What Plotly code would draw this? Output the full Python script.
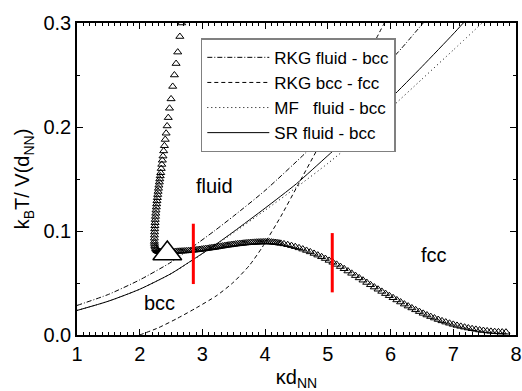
import plotly.graph_objects as go

# ---------------- data ----------------
sr_x = [1.0, 1.5, 2.0, 2.5, 2.85, 3.2, 3.5, 4.0, 4.5, 5.0, 5.5, 6.0, 6.5, 7.0, 7.16]
sr_y = [0.0236, 0.0325, 0.044, 0.059, 0.0725, 0.0865, 0.0995, 0.122, 0.1455, 0.1725, 0.1995, 0.2275, 0.258, 0.2895, 0.300]

rkg_fb_x = [1.0, 1.5, 2.0, 2.5, 2.85, 3.2, 3.5, 4.0, 4.66, 5.0, 5.5, 6.0, 6.18, 6.52]
rkg_fb_y = [0.0284, 0.039, 0.053, 0.070, 0.085, 0.1005, 0.1145, 0.139, 0.176, 0.197, 0.229, 0.264, 0.276, 0.300]

mf_x = [1.0, 1.5, 2.0, 2.5, 3.0, 3.5, 4.0, 4.5, 5.0, 5.5, 6.0, 6.5, 7.0, 7.46]
mf_y = [0.0236, 0.0325, 0.044, 0.059, 0.078, 0.0985, 0.120, 0.142, 0.165, 0.190, 0.218, 0.246, 0.274, 0.300]

rkg_bf_x = [2.0, 2.3, 2.6, 2.9, 3.23, 3.5, 3.75, 3.95, 4.25, 4.53, 4.80, 5.2, 5.6, 5.9]
rkg_bf_y = [0.0, 0.007, 0.016, 0.026, 0.038, 0.051, 0.067, 0.084, 0.114, 0.145, 0.175, 0.220, 0.265, 0.300]

# triangle symbols (simulation points)
tri_x = [
    2.67, 2.64, 2.606, 2.58, 2.553, 2.526, 2.500, 2.475, 2.455, 2.437,
    2.421, 2.407, 2.394, 2.382, 2.371, 2.361, 2.352, 2.343, 2.335, 2.327,
    2.320, 2.313, 2.306, 2.299, 2.293, 2.287, 2.281, 2.275, 2.270, 2.265,
    2.260, 2.256, 2.252, 2.248, 2.245, 2.242, 2.239, 2.237, 2.235, 2.234,
    2.234, 2.236, 2.240, 2.246, 2.254, 2.264, 2.276, 2.290, 2.305, 2.318,
    2.33, 2.36, 2.39, 2.42, 2.45, 2.48, 2.51, 2.54, 2.57, 2.60,
    2.63, 2.66, 2.69, 2.72, 2.75, 2.78, 2.81, 2.84, 2.87, 2.90,
    2.93, 2.96, 2.99, 3.02, 3.05, 3.08, 3.11, 3.14, 3.17, 3.20,
    3.23, 3.26, 3.29, 3.32, 3.35, 3.38, 3.41, 3.44, 3.47, 3.50,
    3.53, 3.56, 3.59, 3.62, 3.65, 3.68, 3.71, 3.74, 3.77, 3.80,
    3.83, 3.86, 3.89, 3.92, 3.95, 3.98, 4.01, 4.04, 4.07, 4.10,
    4.13, 4.16, 4.19, 4.22, 4.25,
    4.30, 4.36, 4.42, 4.48, 4.54, 4.60, 4.66, 4.72, 4.78, 4.84,
    4.90, 4.96, 5.02, 5.08, 5.14, 5.20, 5.26, 5.32, 5.38, 5.44,
    5.50, 5.56, 5.62, 5.68, 5.74, 5.80, 5.86, 5.92, 5.98, 6.04,
    6.10, 6.16, 6.22, 6.28, 6.34, 6.40, 6.46, 6.52, 6.58, 6.64,
    6.70, 6.76, 6.82, 6.88, 6.94, 7.00, 7.06, 7.12, 7.18, 7.24,
    7.30, 7.36, 7.42, 7.48, 7.54, 7.60, 7.66, 7.72, 7.78, 7.84,
]
tri_y = [
    0.300, 0.287, 0.272, 0.261, 0.250, 0.239, 0.227, 0.218, 0.209, 0.201,
    0.194, 0.188, 0.182, 0.177, 0.172, 0.168, 0.164, 0.160, 0.156, 0.153,
    0.150, 0.147, 0.144, 0.141, 0.138, 0.135, 0.132, 0.129, 0.126, 0.123,
    0.120, 0.117, 0.114, 0.111, 0.108, 0.105, 0.102, 0.099, 0.096, 0.093,
    0.090, 0.088, 0.086, 0.0845, 0.083, 0.082, 0.081, 0.0805, 0.0802, 0.0800,
    0.0800, 0.0800, 0.0800, 0.0800, 0.0801, 0.0801, 0.0802, 0.0802, 0.0803, 0.0804,
    0.0805, 0.0806, 0.0807, 0.0808, 0.0809, 0.0810, 0.0812, 0.0814, 0.0816, 0.0818,
    0.0820, 0.0822, 0.0825, 0.0827, 0.0830, 0.0832, 0.0835, 0.0838, 0.0840, 0.0843,
    0.0846, 0.0849, 0.0852, 0.0855, 0.0858, 0.0861, 0.0864, 0.0866, 0.0869, 0.0871,
    0.0874, 0.0876, 0.0878, 0.0880, 0.0882, 0.0884, 0.0886, 0.0887, 0.0889, 0.0890,
    0.0891, 0.0892, 0.0893, 0.0894, 0.0894, 0.0895, 0.0895, 0.0895, 0.0894, 0.0893,
    0.0891, 0.0889, 0.0887, 0.0884, 0.0881,
    0.0876, 0.0868, 0.0859, 0.0849, 0.0838, 0.0826, 0.0813, 0.0799, 0.0784, 0.0768,
    0.0752, 0.0735, 0.0717, 0.0699, 0.0679, 0.0658, 0.0637, 0.0615, 0.0593, 0.0571,
    0.0549, 0.0527, 0.0505, 0.0483, 0.0461, 0.0440, 0.0419, 0.0398, 0.0378, 0.0358,
    0.0337, 0.0317, 0.0297, 0.0278, 0.0260, 0.0242, 0.0225, 0.0208, 0.0192, 0.0177,
    0.0163, 0.0149, 0.0136, 0.0124, 0.0113, 0.0102, 0.0092, 0.0083, 0.0075, 0.0067,
    0.0060, 0.0054, 0.0048, 0.0043, 0.0039, 0.0035, 0.0032, 0.0030, 0.0028, 0.0027,
]

big_x = [2.44]
big_y = [0.0784]

red_x = [2.855, 5.07]
red_lo = [0.049, 0.041]
red_hi = [0.107, 0.098]

x_ticks = [1, 2, 3, 4, 5, 6, 7, 8]
y_ticks = [0.0, 0.1, 0.2, 0.3]

labels = ["fluid", "bcc", "fcc"]
label_x = [3.20, 2.31, 6.69]
label_y = [0.143, 0.031, 0.0774]

FONT = "Liberation Sans, Arial, sans-serif"

fig = go.Figure()

line_series = [
    ("RKG fluid - bcc", rkg_fb_x, rkg_fb_y, "5px,2px,1px,2px"),
    ("RKG bcc - fcc", rkg_bf_x, rkg_bf_y, "4px,3px"),
    ("MF\u00a0\u00a0\u00a0fluid - bcc", mf_x, mf_y, "1px,3px"),
    ("SR fluid - bcc", sr_x, sr_y, "solid"),
]
for i, (name, xs, ys, dash) in enumerate(line_series):
    fig.add_trace(go.Scatter(
        x=xs, y=ys, mode="lines", name=name,
        line=dict(color="black", width=1, dash=dash, shape="spline", smoothing=0.6),
    ))

fig.add_trace(go.Scatter(
    x=tri_x, y=tri_y, mode="markers", showlegend=False,
    marker=dict(symbol="triangle-up-open", size=7, color="black", line=dict(width=1, color="black")),
))

for xv, lo, hi in zip(red_x, red_lo, red_hi):
    fig.add_trace(go.Scatter(
        x=[xv, xv], y=[lo, hi], mode="lines", showlegend=False,
        line=dict(color="#ff0000", width=3),
    ))

fig.add_trace(go.Scatter(
    x=big_x, y=big_y, mode="markers", showlegend=False,
    marker=dict(symbol="triangle-up", size=25, color="white", line=dict(width=1.5, color="black")),
))

for t, xv, yv in zip(labels, label_x, label_y):
    fig.add_annotation(x=xv, y=yv, text=t, showarrow=False,
                       font=dict(family=FONT, size=20, color="black"))

axis_common = dict(
    showgrid=False, zeroline=False, showline=True, linecolor="black", linewidth=1.5,
    mirror="ticks", ticks="inside", tickcolor="black", tickwidth=1, ticklen=6,
    tickfont=dict(family=FONT, size=20, color="black"), automargin=False,
)

fig.update_xaxes(
    range=[1, 8], tickvals=x_ticks, ticktext=[str(v) for v in x_ticks],
    minor=dict(dtick=0.1, ticks="inside", ticklen=3, tickcolor="black", tickwidth=1),
    title=dict(text="\u03bad<sub>NN</sub>", font=dict(family=FONT, size=20, color="black"), standoff=8),
    **axis_common,
)
fig.update_yaxes(
    range=[0, 0.3], tickvals=y_ticks, ticktext=[f"{v:.1f}" for v in y_ticks],
    minor=dict(dtick=0.05, ticks="inside", ticklen=3, tickcolor="black", tickwidth=1),
    title=dict(text="k<sub>B</sub>T/ V(d<sub>NN</sub>)", font=dict(family=FONT, size=20, color="black"), standoff=8),
    **axis_common,
)

fig.update_layout(
    width=522, height=391,
    margin=dict(l=77, r=6, t=23, b=56, pad=0),
    paper_bgcolor="white", plot_bgcolor="white",
    font=dict(family=FONT, color="black"),
    legend=dict(
        x=0.282, y=0.951, xanchor="left", yanchor="top",
        bgcolor="white", bordercolor="#808080", borderwidth=1.5,
        font=dict(family=FONT, size=17, color="black"),
        tracegroupgap=0, itemwidth=62,
    ),
)

fig.write_html("out.html")
